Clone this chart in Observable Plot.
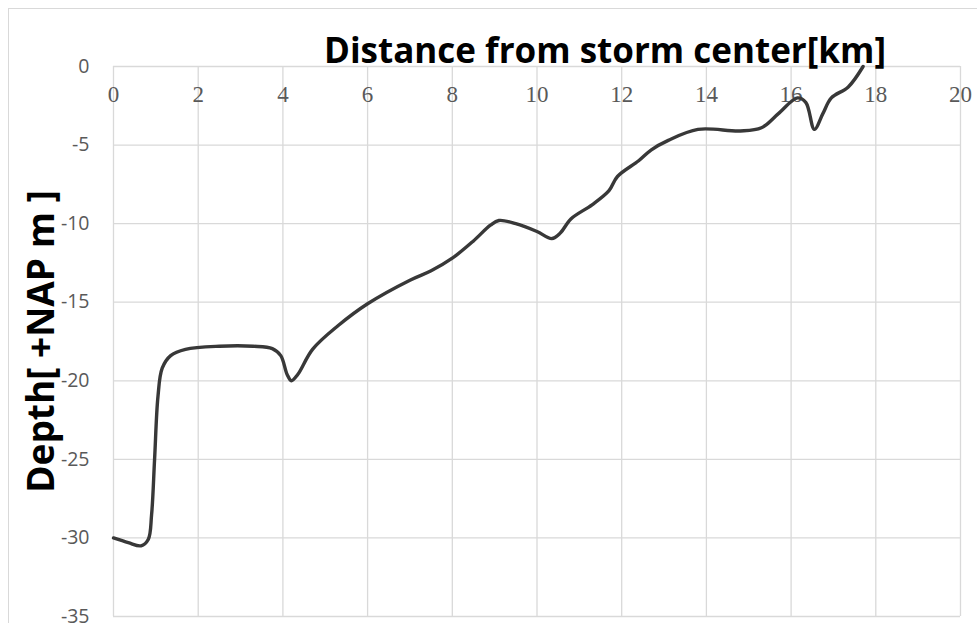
<!DOCTYPE html>
<html>
<head>
<meta charset="utf-8">
<script src="https://cdn.jsdelivr.net/npm/d3@7"></script>
<script src="https://cdn.jsdelivr.net/npm/@observablehq/plot@0.6"></script>
<style>
  html, body { margin: 0; padding: 0; background: #fff; overflow: hidden; }
  #wrap { position: relative; width: 977px; height: 623px; }
  #border { position: absolute; left: 8px; top: 8px; width: 1200px; height: 1200px; border: 1.5px solid #d9d9d9; box-sizing: border-box; }
  #chart { position: absolute; left: 0; top: 0; }
</style>
</head>
<body>
<div id="wrap"><div id="border"></div><div id="chart"></div></div>
<script>
// Distance from storm center [km]
const distanceKm = [0, 0.35, 0.65, 0.82, 0.9, 0.97, 1.05, 1.15, 1.35, 1.7, 2.5, 3.3, 3.75, 3.95, 4.1, 4.2, 4.35, 4.7, 5.3, 6.0, 7.0, 7.5, 8.0, 8.5, 8.9, 9.1, 9.5, 10.0, 10.35, 10.55, 10.8, 11.3, 11.7, 11.9, 12.4, 12.7, 13.1, 13.8, 14.8, 15.3, 15.7, 16.15, 16.35, 16.55, 16.75, 16.95, 17.35, 17.7];
// Depth [+NAP m]
const depthM = [-30, -30.3, -30.5, -30.1, -28.5, -25, -21, -19.2, -18.4, -18.0, -17.8, -17.8, -17.95, -18.4, -19.6, -20.0, -19.6, -18.0, -16.5, -15.1, -13.6, -13.0, -12.2, -11.1, -10.1, -9.8, -10.0, -10.5, -10.95, -10.6, -9.7, -8.8, -7.9, -7.0, -6.0, -5.3, -4.7, -4.0, -4.1, -3.9, -3.0, -2.0, -2.3, -4.0, -3.0, -2.0, -1.3, 0];
const xTicks = [0, 2, 4, 6, 8, 10, 12, 14, 16, 18, 20];
const yTicks = [0, -5, -10, -15, -20, -25, -30, -35];
const xTitle = "Distance from storm center[km]";
const yTitle = "Depth[ +NAP m ]";

const data = distanceKm.map((x, i) => ({x, y: depthM[i]}));

const plot = Plot.plot({
  width: 977,
  height: 623,
  marginLeft: 113,
  marginRight: 17,
  marginTop: 66,
  marginBottom: 7,
  x: {domain: [0, 20], axis: null},
  y: {domain: [-35, 0], axis: null},
  style: {background: "transparent", overflow: "visible"},
  marks: [
    Plot.gridX(xTicks, {stroke: "#d9d9d9", strokeOpacity: 1, strokeWidth: 1.3}),
    Plot.gridY(yTicks, {stroke: "#d9d9d9", strokeOpacity: 1, strokeWidth: 1.3}),
    Plot.text(xTicks, {x: d => d, text: d => String(d), frameAnchor: "top", dy: 28, lineAnchor: "middle",
      fontFamily: "Liberation Serif", fontSize: 23, fill: "#595959"}),
    Plot.text(yTicks, {y: d => d, text: d => String(d), frameAnchor: "left", dx: -24, textAnchor: "end", lineAnchor: "middle",
      fontFamily: "Open Sans", fontSize: 19.5, fill: "#595959"}),
    Plot.line(data, {x: "x", y: "y", curve: "catmull-rom", stroke: "#383838", strokeWidth: 3.4}),
    Plot.text([xTitle], {text: d => d, frameAnchor: "top", textAnchor: "middle", dx: 68, dy: -4, lineAnchor: "bottom",
      fontFamily: "Open Sans", fontWeight: "bold", fontSize: 35, fill: "#000"}),
    Plot.text([yTitle], {text: d => d, frameAnchor: "left", textAnchor: "middle", dx: -60, rotate: -90, lineAnchor: "bottom",
      fontFamily: "Open Sans", fontWeight: "bold", fontSize: 37, fill: "#000"})
  ]
});
document.getElementById("chart").appendChild(plot);
</script>
</body>
</html>
